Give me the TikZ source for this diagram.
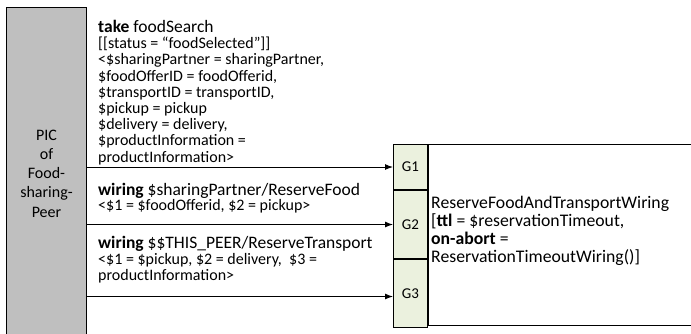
\documentclass[tikz,border=0pt]{standalone}
\usepackage{fontspec}
\setmainfont{Carlito}
\usepackage{xcolor}
\usetikzlibrary{positioning, arrows.meta}
\definecolor{peergrey}{HTML}{BFBFBF}
\definecolor{gatefill}{HTML}{EBF1DE}

\begin{document}
\begin{tikzpicture}[
  x=1pt, y=-1pt,
  font=\fontsize{16}{16.2}\selectfont,
  lbl/.style={anchor=north west, inner sep=0pt, align=left},
  gate/.style={draw, fill=gatefill, minimum width=34pt, inner sep=0pt,
               line width=1pt, anchor=north west,
               font=\fontsize{15}{16}\selectfont},
  arr/.style={-{Latex[length=8pt,width=6pt]}, line width=1pt}
]
\clip (0,0) rectangle (691,333);
\node[draw, fill=peergrey, line width=1pt, minimum width=80pt,
      minimum height=332pt, anchor=north west, align=center, inner sep=0pt,
      font=\fontsize{16}{19.2}\selectfont] (peer) at (6,7)
  {PIC\\of\\Food-\\sharing-\\Peer};
% gates and wiring box
\node[gate, minimum height=45pt] (g1) at (393,144) {G1};
\node[gate, minimum height=68pt] (g2) at (g1.south west) {G2};
\node[gate, minimum height=68pt] (g3) at (g2.south west) {G3};
\node[draw, line width=1pt, minimum width=263pt, minimum height=181pt,
      anchor=north west, inner sep=0pt] (wire) at (g1.north east) {};
\node[anchor=west, inner sep=0pt, align=left, yshift=4pt,
      font=\fontsize{17.7}{18}\selectfont] (wtext) at ([xshift=3pt]wire.west)
  {ReserveFoodAndTransportWiring\\
   {[}\textbf{ttl} = \$reservationTimeout,\\
   \textbf{on-abort} =\\
   ReservationTimeoutWiring()]};
% labels of the connectors
\node[lbl] (take) at (98,20)
  {{\fontsize{17.5}{16.2}\selectfont\textbf{take} foodSearch}\\
   {[[}status = “foodSelected”]]\\
   <\$sharingPartner = sharingPartner,\\
   \$foodOfferID = foodOfferid,\\
   \$transportID = transportID,\\
   \$pickup = pickup\\
   \$delivery = delivery,\\
   \$productInformation =\\
   productInformation>};
\node[lbl] (food) at (98,182.7)
  {{\fontsize{17.5}{16.2}\selectfont\textbf{wiring} \$sharingPartner/ReserveFood}\\[-1.2pt]
   <\$1 = \$foodOfferid, \$2 = pickup>};
\node[lbl] (trans) at (98,235.7)
  {{\fontsize{17.5}{16.2}\selectfont\textbf{wiring} \$\$THIS\_PEER/ReserveTransport}\\
   <\$1 = \$pickup, \$2 = delivery, \ \$3 =\\
   productInformation>};
% connectors
\draw[arr] (peer.east |- g1.west) -- (g1.west);
\draw[arr] (peer.east |- g2.west) -- (g2.west);
\draw[arr] ([yshift=-3pt]peer.east |- g3.west) -- ([yshift=-3pt]g3.west);
\end{tikzpicture}
\end{document}
